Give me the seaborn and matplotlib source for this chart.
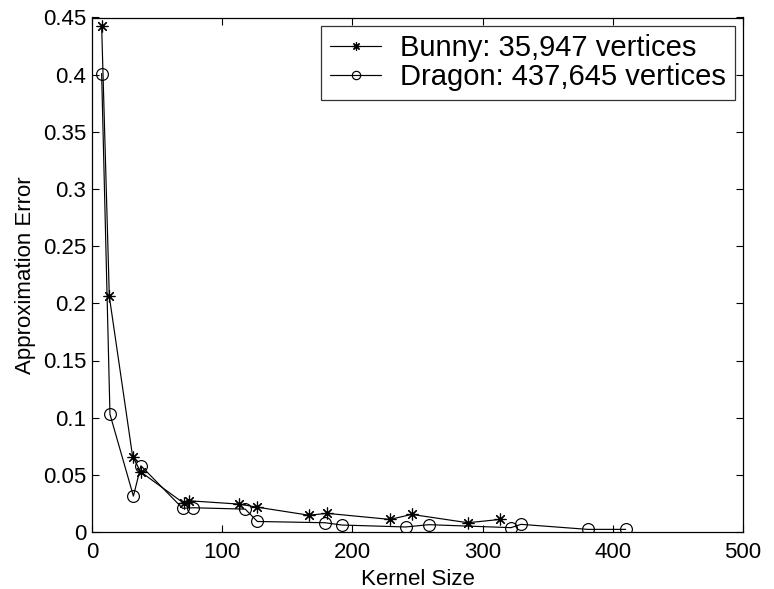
import matplotlib
matplotlib.use("Agg")
import matplotlib.pyplot as plt
import seaborn as sns
import pandas as pd

# Data
bunny_x = [7.4, 13.3, 31.2, 37.4, 70.7, 74.8, 113.0, 127.0, 166.5, 180.7, 228.9, 245.5, 288.7, 313.4]
bunny_y = [0.443, 0.206, 0.066, 0.0526, 0.025, 0.0273, 0.0244, 0.0217, 0.0147, 0.0163, 0.011, 0.0154, 0.0081, 0.011]
dragon_x = [7.4, 13.8, 31.8, 37.6, 69.6, 77.8, 117.7, 127.0, 179.0, 191.8, 240.9, 258.8, 321.8, 329.5, 380.7, 409.9]
dragon_y = [0.401, 0.103, 0.0314, 0.0579, 0.0207, 0.0212, 0.020, 0.0092, 0.0081, 0.0061, 0.0044, 0.0064, 0.0038, 0.0067, 0.0023, 0.0023]
labels = ["Bunny: 35,947 vertices", "Dragon: 437,645 vertices"]
x_ticks = [0, 100, 200, 300, 400, 500]
y_ticks = [0, 0.05, 0.1, 0.15, 0.2, 0.25, 0.3, 0.35, 0.4, 0.45]
y_ticklabels = ["0", "0.05", "0.1", "0.15", "0.2", "0.25", "0.3", "0.35", "0.4", "0.45"]

sns.set_theme(style="white")
plt.rcParams["font.family"] = ["Liberation Sans", "DejaVu Sans"]
plt.rcParams["text.color"] = "black"
plt.rcParams["axes.labelcolor"] = "black"

df_b = pd.DataFrame({"x": bunny_x, "y": bunny_y})
df_d = pd.DataFrame({"x": dragon_x, "y": dragon_y})

fig = plt.figure(figsize=(7.74, 5.89), dpi=100)
ax = fig.add_axes([92 / 774, (589 - 532) / 589, (743 - 92) / 774, (532 - 17.5) / 589])

sns.lineplot(data=df_b, x="x", y="y", ax=ax, sort=False, estimator=None,
             color="black", linewidth=0.85, marker=(8, 2, 0), markersize=8.5,
             markeredgewidth=0.85, markeredgecolor="black", label=labels[0])
sns.lineplot(data=df_d, x="x", y="y", ax=ax, sort=False, estimator=None,
             color="black", linewidth=0.85, marker="o", markersize=8.5,
             markerfacecolor="none", markeredgewidth=0.85, markeredgecolor="black",
             label=labels[1])

ax.set_xlim(0, 500)
ax.set_ylim(0, 0.45)
ax.set_xticks(x_ticks)
ax.set_xticklabels([str(t) for t in x_ticks])
ax.set_yticks(y_ticks)
ax.set_yticklabels(y_ticklabels)

for s in ax.spines.values():
    s.set_visible(True)
    s.set_color("black")
    s.set_linewidth(0.9)

ax.tick_params(axis="both", which="major", direction="in", length=5, width=0.8,
               top=True, right=True, bottom=True, left=True, labelsize=16,
               colors="black")
ax.tick_params(axis="x", pad=7)
ax.tick_params(axis="y", pad=4)

ax.set_xlabel("Kernel Size", fontsize=16, color="black")
ax.set_ylabel("Approximation Error", fontsize=16, color="black")
ax.xaxis.set_label_coords(0.5, -0.071)
ax.yaxis.set_label_coords(-0.086, 0.5)

leg = ax.legend(loc="upper right", fontsize=21, numpoints=1, handlelength=1.75,
                handletextpad=0.65, borderpad=0.3, borderaxespad=0.28,
                labelspacing=0.02, fancybox=False, frameon=True, edgecolor="black",
                labelcolor="black")
leg.get_frame().set_linewidth(0.9)
leg.get_frame().set_facecolor("white")
for h in leg.legend_handles:
    h.set_markersize(6)

fig.savefig("out.png", dpi=100)
